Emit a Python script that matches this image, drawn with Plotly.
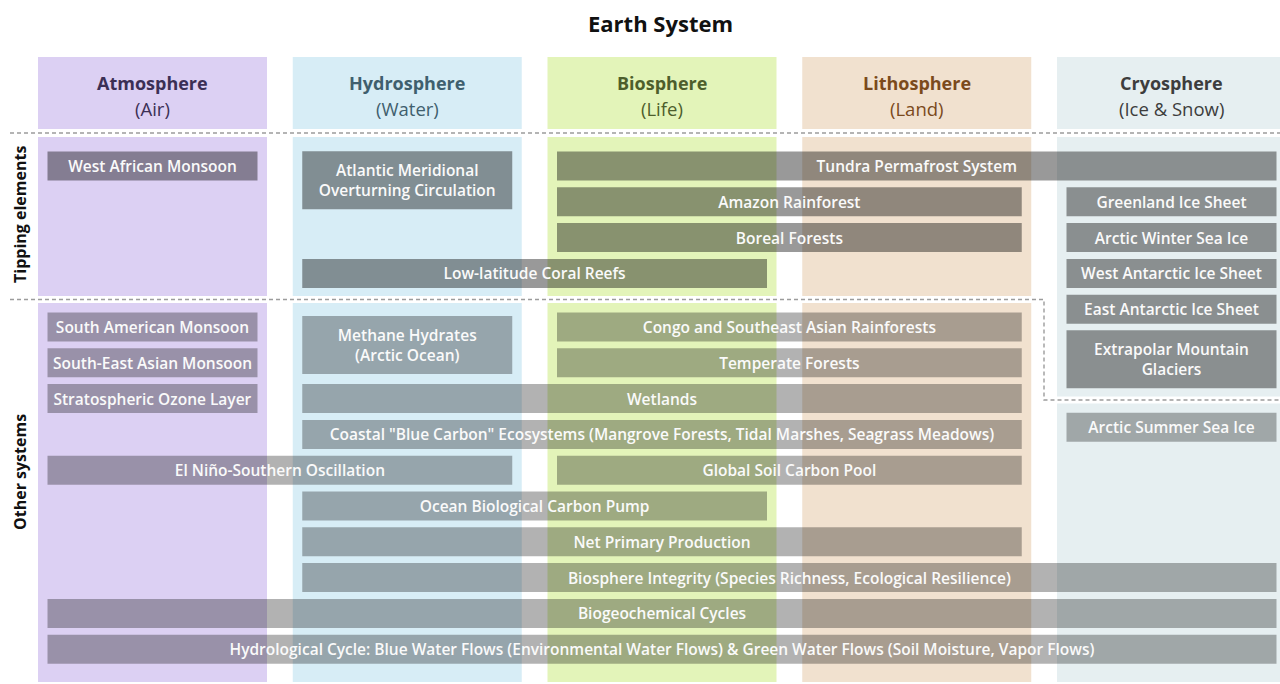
import plotly.graph_objects as go

# ---------------- data ----------------
spheres = ["Atmosphere", "Hydrosphere", "Biosphere", "Lithosphere", "Cryosphere"]
sphere_subtitles = ["(Air)", "(Water)", "(Life)", "(Land)", "(Ice & Snow)"]
sphere_fill = ["#DCD0F3", "#D7EDF6", "#E3F4B9", "#F1E1CF", "#E6EFF1"]
sphere_text = ["#3B2F55", "#3F5F6E", "#4D5E2C", "#7B4A1C", "#3D3D3D"]

sections = ["Tipping elements", "Other systems"]

system_names = [
    "West African Monsoon",
    "Atlantic Meridional<br>Overturning Circulation",
    "Tundra Permafrost System",
    "Amazon Rainforest",
    "Boreal Forests",
    "Low-latitude Coral Reefs",
    "Greenland Ice Sheet",
    "Arctic Winter Sea Ice",
    "West Antarctic Ice Sheet",
    "East Antarctic Ice Sheet",
    "Extrapolar Mountain<br>Glaciers",
    "South American Monsoon",
    "South-East Asian Monsoon",
    "Stratospheric Ozone Layer",
    "Methane Hydrates<br>(Arctic Ocean)",
    "Congo and Southeast Asian Rainforests",
    "Temperate Forests",
    "Wetlands",
    "Coastal \"Blue Carbon\" Ecosystems (Mangrove Forests, Tidal Marshes, Seagrass Meadows)",
    "El Niño-Southern Oscillation",
    "Global Soil Carbon Pool",
    "Ocean Biological Carbon Pump",
    "Net Primary Production",
    "Biosphere Integrity (Species Richness, Ecological Resilience)",
    "Biogeochemical Cycles",
    "Arctic Summer Sea Ice",
    "Hydrological Cycle: Blue Water Flows (Environmental Water Flows) & Green Water Flows (Soil Moisture, Vapor Flows)",
]
system_section = [
    "Tipping elements", "Tipping elements", "Tipping elements", "Tipping elements",
    "Tipping elements", "Tipping elements", "Tipping elements", "Tipping elements",
    "Tipping elements", "Tipping elements", "Tipping elements",
    "Other systems", "Other systems", "Other systems", "Other systems", "Other systems",
    "Other systems", "Other systems", "Other systems", "Other systems", "Other systems",
    "Other systems", "Other systems", "Other systems", "Other systems", "Other systems",
    "Other systems",
]
# first and last sphere each system spans
system_from = [
    "Atmosphere", "Hydrosphere", "Biosphere", "Biosphere", "Biosphere", "Hydrosphere",
    "Cryosphere", "Cryosphere", "Cryosphere", "Cryosphere", "Cryosphere",
    "Atmosphere", "Atmosphere", "Atmosphere", "Hydrosphere", "Biosphere", "Biosphere",
    "Hydrosphere", "Hydrosphere", "Atmosphere", "Biosphere", "Hydrosphere", "Hydrosphere",
    "Hydrosphere", "Atmosphere", "Cryosphere", "Atmosphere",
]
system_to = [
    "Atmosphere", "Hydrosphere", "Cryosphere", "Lithosphere", "Lithosphere", "Biosphere",
    "Cryosphere", "Cryosphere", "Cryosphere", "Cryosphere", "Cryosphere",
    "Atmosphere", "Atmosphere", "Atmosphere", "Hydrosphere", "Lithosphere", "Lithosphere",
    "Lithosphere", "Lithosphere", "Hydrosphere", "Lithosphere", "Biosphere", "Lithosphere",
    "Cryosphere", "Cryosphere", "Cryosphere", "Cryosphere",
]
# row slot inside its section, and number of rows it occupies
system_row = [0, 0.4, 0, 1, 2, 3, 1, 2, 3, 4, 5.4,
              0, 1, 2, 0.5, 0, 1, 2, 3, 4, 4, 5, 6, 7, 8, 2.8, 9]
system_rowspan = [1, 2, 1, 1, 1, 1, 1, 1, 1, 1, 2,
                  1, 1, 1, 2, 1, 1, 1, 1, 1, 1, 1, 1, 1, 1, 1, 1]

# ---------------- layout helpers ----------------
W, H = 1280, 684
COL_LEFT0, COL_PITCH, COL_W = 38, 254.75, 229
BAR_INSET = 9.5
ROW_PITCH, BAR_H = 35.8, 29
SECTION_Y0 = {"Tipping elements": 166, "Other systems": 327}
HEAD_TOP, HEAD_BOT = 57, 129
BODY_TOP, BODY_BOT = 137, 682
SPLIT_Y = 299.5          # dashed line between sections (first four spheres)
SPLIT_Y_CRYO = 400       # dashed line in the cryosphere column
DASH_X = 1044


def col_left(i):
    return COL_LEFT0 + i * COL_PITCH


def col_right(i):
    return col_left(i) + COL_W


fig = go.Figure()

shapes = []
annotations = []

# sphere columns
for i, name in enumerate(spheres):
    x0, x1 = col_left(i), col_right(i)
    split = SPLIT_Y_CRYO if name == "Cryosphere" else SPLIT_Y
    for (y0, y1) in [(HEAD_TOP, HEAD_BOT), (BODY_TOP, split - 3.5), (split + 3.5, BODY_BOT)]:
        shapes.append(dict(type="rect", xref="x", yref="y", x0=x0, x1=x1, y0=y0, y1=y1,
                           fillcolor=sphere_fill[i], line=dict(width=0), layer="below"))
    cx = (x0 + x1) / 2
    annotations.append(dict(x=cx, y=83, xref="x", yref="y", text="<b>%s</b>" % name,
                            showarrow=False, font=dict(family="Open Sans", size=18, color=sphere_text[i])))
    annotations.append(dict(x=cx, y=108, xref="x", yref="y", text=sphere_subtitles[i],
                            showarrow=False, font=dict(family="Open Sans", size=18.5, color=sphere_text[i])))

# dashed separators
dash_style = dict(color="#9C9C9C", width=1.4, dash="4px,3px")
shapes.append(dict(type="line", xref="x", yref="y", x0=10, x1=W, y0=133, y1=133, line=dash_style, layer="above"))
shapes.append(dict(type="path", xref="x", yref="y",
                   path="M 10 %s L %s %s L %s %s L %s %s" % (SPLIT_Y, DASH_X, SPLIT_Y, DASH_X,
                                                               SPLIT_Y_CRYO, W, SPLIT_Y_CRYO),
                   line=dash_style, layer="above"))

# bars
idx = {s: i for i, s in enumerate(spheres)}
bar_base, bar_len, bar_y, bar_w, bar_col = [], [], [], [], []
for n, sec, f, t, r, span in zip(system_names, system_section, system_from, system_to,
                                  system_row, system_rowspan):
    x0 = col_left(idx[f]) + BAR_INSET
    x1 = col_right(idx[t]) - BAR_INSET
    bar_base.append(x0)
    bar_len.append(x1 - x0)
    bar_y.append(SECTION_Y0[sec] + r * ROW_PITCH)
    bar_w.append(BAR_H if span == 1 else BAR_H * 2)
    bar_col.append("rgba(0,0,0,0.40)" if sec == "Tipping elements" else "rgba(0,0,0,0.30)")

fig.add_trace(go.Bar(
    orientation="h",
    base=bar_base, x=bar_len, y=bar_y, width=bar_w,
    text=system_names, textposition="inside", insidetextanchor="middle", textangle=0,
    constraintext="none",
    textfont=dict(family="Open Sans", size=15.5, color="#FAFAFA", weight=600),
    marker=dict(color=bar_col, line=dict(width=0)),
    hoverinfo="text", hovertext=[s.replace("<br>", " ") for s in system_names],
    showlegend=False,
))

# title and section labels
annotations.append(dict(x=660, y=23, xref="x", yref="y", text="<b>Earth System</b>", showarrow=False,
                        font=dict(family="Open Sans", size=22, color="#111111")))
annotations.append(dict(x=20, y=215, xref="x", yref="y", text="<b>%s</b>" % sections[0], textangle=-90,
                        showarrow=False, font=dict(family="Open Sans", size=16, color="#111111")))
annotations.append(dict(x=20, y=472, xref="x", yref="y", text="<b>%s</b>" % sections[1], textangle=-90,
                        showarrow=False, font=dict(family="Open Sans", size=16, color="#111111")))

fig.update_layout(
    width=W, height=H,
    margin=dict(l=0, r=0, t=0, b=0),
    paper_bgcolor="white", plot_bgcolor="white",
    barmode="overlay",
    shapes=shapes, annotations=annotations,
    xaxis=dict(range=[0, W], visible=False, fixedrange=True),
    yaxis=dict(range=[H, 0], visible=False, fixedrange=True),
)

fig.write_html("out.html", config={"displayModeBar": False},
               post_script="document.body.style.margin='0';document.body.style.overflow='hidden';")
